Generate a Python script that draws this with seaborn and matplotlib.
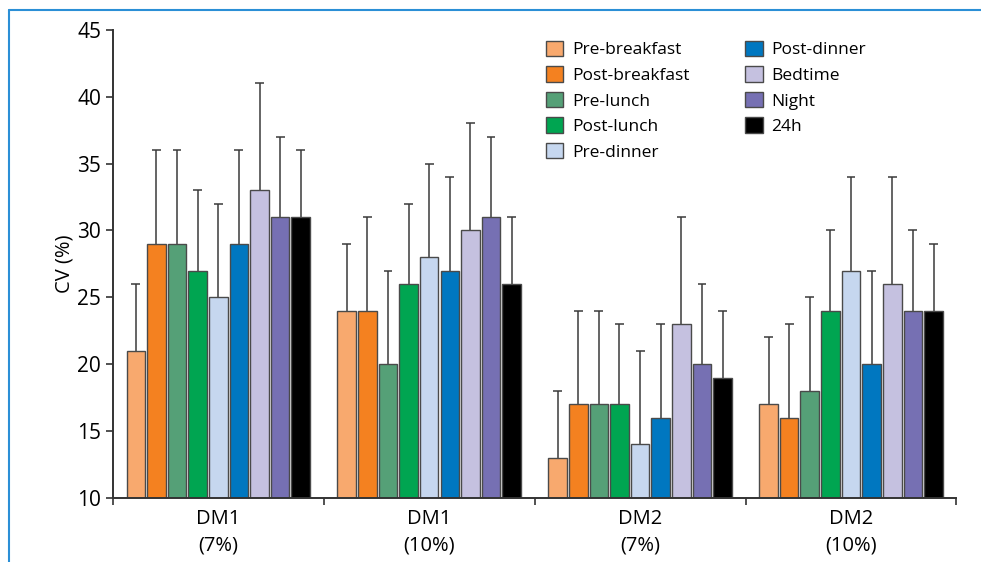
import numpy as np
import pandas as pd
import seaborn as sns
import matplotlib.pyplot as plt
from matplotlib.lines import Line2D

# Groups and time points
groups = ["DM1\n(7%)", "DM1\n(10%)", "DM2\n(7%)", "DM2\n(10%)"]
times = ["Pre-breakfast", "Post-breakfast", "Pre-lunch", "Post-lunch", "Pre-dinner",
         "Post-dinner", "Bedtime", "Night", "24h"]
colors = ["#F8A96E", "#F48120", "#55A077", "#00A551", "#C6D7EF",
          "#0077C0", "#C5C1E0", "#7670B3", "#000000"]

# CV (%) per group, in the order of times
cv_dm1_7 = [21, 29, 29, 27, 25, 29, 33, 31, 31]
cv_dm1_10 = [24, 24, 20, 26, 28, 27, 30, 31, 26]
cv_dm2_7 = [13, 17, 17, 17, 14, 16, 23, 20, 19]
cv_dm2_10 = [17, 16, 18, 24, 27, 20, 26, 24, 24]

# top of the error bar per group
top_dm1_7 = [26, 36, 36, 33, 32, 36, 41, 37, 36]
top_dm1_10 = [29, 31, 27, 32, 35, 34, 38, 37, 31]
top_dm2_7 = [18, 24, 24, 23, 21, 23, 31, 26, 24]
top_dm2_10 = [22, 23, 25, 30, 34, 27, 34, 30, 29]

values = [cv_dm1_7, cv_dm1_10, cv_dm2_7, cv_dm2_10]
tops = [top_dm1_7, top_dm1_10, top_dm2_7, top_dm2_10]

rows = []
for g, vals, tps in zip(groups, values, tops):
    for t, v, tp in zip(times, vals, tps):
        rows.append({"group": g, "time": t, "cv": v, "top": tp})
df = pd.DataFrame(rows)

sns.set_style("ticks")
plt.rcParams["font.family"] = ["Open Sans", "DejaVu Sans"]
plt.rcParams["text.color"] = "black"
plt.rcParams["xtick.color"] = "black"
plt.rcParams["ytick.color"] = "black"
plt.rcParams["axes.labelcolor"] = "black"

fig = plt.figure(figsize=(9.81, 5.62), dpi=100)
ax = fig.add_axes([0.115, 0.114, 0.86, 0.833])

sns.barplot(data=df, x="group", y="cv", hue="time", order=groups, hue_order=times,
            palette=colors, saturation=1, width=0.88, gap=0.1, errorbar=None,
            edgecolor="#4a4a4a", linewidth=1.0, ax=ax, legend=True)

# upper-only error bars: stem from the bar top plus a cap
cap = 0.021
for container, t in zip(ax.containers, times):
    sub = df[df["time"] == t].set_index("group").loc[groups]
    xs = np.array([p.get_x() + p.get_width() / 2 for p in container.patches])
    ax.vlines(xs, sub["cv"].values, sub["top"].values, color="#3a3a3a", lw=1.1, zorder=0.5)
    ax.hlines(sub["top"].values, xs - cap, xs + cap, color="#3a3a3a", lw=1.1, zorder=0.5)

ax.set_ylim(10, 45)
ax.set_xlim(-0.5, 3.5)
ax.set_yticks(range(10, 46, 5))
ax.set_xticks(np.arange(-0.5, 4, 1), minor=False)
ax.set_xticklabels([])
ax.set_xticks(range(4), minor=True)
ax.set_xticklabels(groups, minor=True, fontsize=14.5, linespacing=1.45)
ax.tick_params(axis="x", which="minor", length=0, pad=8)
ax.tick_params(axis="x", which="major", length=5, width=1.2, color="#333333")
ax.tick_params(axis="y", labelsize=15, length=5, width=1.2, color="#333333")
ax.set_xlabel("")
ax.set_ylabel("CV (%)", fontsize=14.5, labelpad=2)
for s in ["left", "bottom"]:
    ax.spines[s].set_linewidth(1.4)
    ax.spines[s].set_color("#333333")
sns.despine(ax=ax)

ax.legend(ncol=2, loc="upper left", bbox_to_anchor=(0.495, 1.01), frameon=False,
          fontsize=12.5, handlelength=1.0, handleheight=1.0, handletextpad=0.5,
          labelspacing=0.45, columnspacing=3.2)

# thin blue frame around the figure
fig.add_artist(Line2D([9 / 981, 1], [1 - 10 / 562, 1 - 10 / 562], color="#2b8fd6", lw=1.5))
fig.add_artist(Line2D([9 / 981, 9 / 981], [0, 1 - 10 / 562], color="#2b8fd6", lw=1.5))

fig.savefig("out.png", dpi=100)
